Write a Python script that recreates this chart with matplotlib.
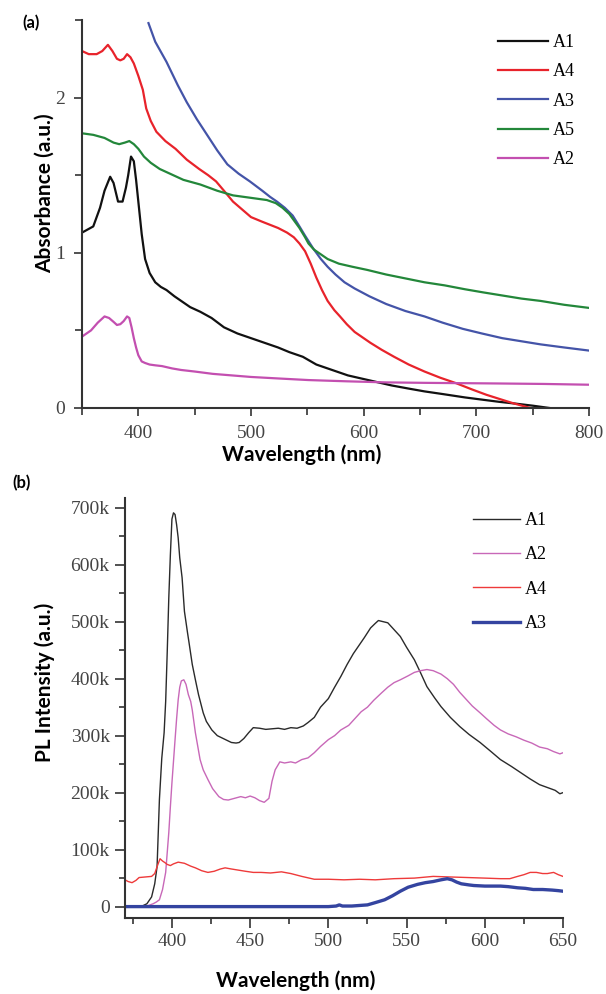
import matplotlib
matplotlib.use("Agg")
import matplotlib.pyplot as plt
from matplotlib.ticker import MultipleLocator, FixedLocator

# ---------------- data: (a) absorbance ----------------
abs_a1_x = [350, 355, 360, 366, 370, 375, 378, 382, 386, 389, 391, 393.5, 396, 398, 400, 403, 406, 410, 415, 420,
            425, 432, 438, 446, 455, 465, 476, 488, 500, 512, 524, 534, 546, 558, 572, 586, 598, 610, 625, 640,
            654, 670, 690, 706, 720, 735, 750, 758, 765]
abs_a1_y = [1.13, 1.15, 1.17, 1.29, 1.40, 1.49, 1.45, 1.33, 1.33, 1.42, 1.50, 1.62, 1.59, 1.47, 1.33, 1.12, 0.96,
            0.87, 0.81, 0.78, 0.76, 0.72, 0.69, 0.65, 0.62, 0.58, 0.52, 0.48, 0.45, 0.42, 0.39, 0.36, 0.33, 0.28,
            0.245, 0.21, 0.19, 0.17, 0.145, 0.125, 0.107, 0.09, 0.068, 0.053, 0.04, 0.028, 0.015, 0.007, 0.0]

abs_a4_x = [350, 356, 363, 368, 373, 377, 381, 384, 387, 390, 393, 396, 400, 404, 407, 411, 416, 424, 433, 443,
            454, 462, 469, 476, 484, 492, 500, 510, 524, 532, 538, 543, 548, 553, 558, 563, 568, 574, 579, 585,
            592, 600, 606, 616, 627, 640, 654, 668, 682, 696, 709, 722, 733, 742, 748]
abs_a4_y = [2.30, 2.28, 2.28, 2.30, 2.34, 2.30, 2.25, 2.24, 2.25, 2.28, 2.26, 2.22, 2.14, 2.05, 1.93, 1.85, 1.78,
            1.72, 1.67, 1.60, 1.54, 1.50, 1.46, 1.40, 1.33, 1.28, 1.23, 1.20, 1.16, 1.13, 1.10, 1.06, 1.01, 0.93,
            0.84, 0.76, 0.69, 0.63, 0.59, 0.54, 0.49, 0.45, 0.42, 0.375, 0.33, 0.28, 0.235, 0.195, 0.16, 0.12,
            0.085, 0.055, 0.03, 0.012, 0.0]

abs_a3_x = [409, 415, 425, 435, 443, 452, 461, 470, 479, 489, 499, 510, 517, 523, 530, 537, 543, 548, 555, 562,
            568, 575, 583, 592, 605, 620, 637, 654, 670, 688, 705, 723, 740, 757, 778, 800]
abs_a3_y = [2.48, 2.36, 2.23, 2.08, 1.97, 1.86, 1.76, 1.66, 1.57, 1.51, 1.46, 1.40, 1.36, 1.33, 1.29, 1.24, 1.17,
            1.11, 1.03, 0.96, 0.91, 0.86, 0.81, 0.77, 0.72, 0.67, 0.625, 0.59, 0.55, 0.51, 0.48, 0.45, 0.43,
            0.41, 0.39, 0.37]

abs_a5_x = [350, 360, 370, 378, 383, 388, 392, 396, 400, 405, 411, 419, 428, 440, 455, 470, 484, 499, 514, 522,
            528, 534, 538, 543, 548, 551, 556, 562, 568, 578, 590, 603, 620, 637, 654, 672, 690, 706, 723, 740,
            757, 778, 800]
abs_a5_y = [1.77, 1.76, 1.74, 1.71, 1.70, 1.71, 1.72, 1.70, 1.67, 1.62, 1.58, 1.54, 1.51, 1.47, 1.44, 1.40, 1.37,
            1.355, 1.34, 1.32, 1.29, 1.25, 1.21, 1.16, 1.10, 1.06, 1.02, 0.99, 0.96, 0.93, 0.91, 0.89, 0.86,
            0.835, 0.81, 0.79, 0.765, 0.745, 0.725, 0.705, 0.69, 0.665, 0.645]

abs_a2_x = [350, 354, 358, 364, 370, 374, 378, 381, 384, 387, 390, 392, 394, 396, 398, 400, 403, 406, 410, 415,
            421, 430, 438, 450, 466, 483, 500, 525, 551, 585, 620, 655, 688, 720, 760, 800]
abs_a2_y = [0.46, 0.48, 0.50, 0.55, 0.59, 0.58, 0.555, 0.535, 0.54, 0.56, 0.59, 0.58, 0.52, 0.45, 0.39, 0.34,
            0.30, 0.29, 0.28, 0.275, 0.27, 0.255, 0.245, 0.235, 0.22, 0.21, 0.20, 0.19, 0.18, 0.172, 0.165, 0.162,
            0.16, 0.158, 0.155, 0.15]

abs_labels = ["A1", "A4", "A3", "A5", "A2"]
abs_colors = ["#111111", "#e8232b", "#4454a8", "#23873a", "#c34fb0"]

# ---------------- data: (b) photoluminescence (k counts) ----------------
pl_a1_x = [370, 375, 381, 384, 387, 389, 390.5, 392, 393.5, 395, 396, 397, 398, 399, 400, 401, 402, 403, 404, 405,
           406.5, 408, 410, 411, 413, 415, 417, 420, 422, 425.5, 429, 432, 435, 438, 441, 443, 446, 449, 452, 456,
           460, 464, 468, 472, 476, 480, 484, 487, 491, 495, 500, 504, 508, 512, 516, 519, 523, 527, 530, 532,
           535, 538, 542, 546, 550, 555, 559, 563, 568, 572, 578, 584, 590, 597, 604, 610, 617, 623, 629, 635,
           641, 645, 648, 650]
pl_a1_y = [0, 0, 1, 5, 17, 40, 70, 188, 260, 305, 360, 447, 542, 617, 680, 691, 688, 670, 647, 612, 577, 518, 480,
           462, 425, 398, 372, 340, 325, 310, 300, 296, 292, 288, 287, 288, 295, 305, 314, 313, 311, 312, 313,
           311, 314, 313, 317, 323, 332, 350, 365, 385, 404, 425, 444, 456, 472, 489, 497, 502, 500, 498, 486,
           474, 455, 433, 410, 386, 366, 351, 332, 316, 302, 288, 272, 258, 246, 235, 224, 214, 208, 204, 198, 200]

pl_a2_x = [370, 380, 385, 388, 390, 392, 394, 396, 397, 398, 399, 400, 401, 402, 403, 404, 405, 406, 407.6, 409,
           410.5, 412, 413, 415, 418, 420, 423, 426, 430, 433, 436, 440, 444, 447, 450, 453, 456, 459, 462, 464,
           466, 469, 472, 476, 479, 483, 487, 491, 495, 500, 504, 508, 513, 517, 521, 525, 529, 534, 538, 542,
           546, 551, 555, 559, 563, 567, 572, 576, 580, 584, 588, 592, 597, 601, 606, 610, 615, 620, 625, 630,
           635, 640, 644, 648, 650]
pl_a2_y = [0, 0, 2, 5, 8, 12, 30, 60, 95, 130, 175, 217, 255, 293, 330, 363, 385, 396, 398, 390, 372, 360, 345,
           305, 258, 240, 223, 207, 193, 188, 187, 190, 193, 191, 194, 191, 186, 183, 190, 220, 240, 254, 252,
           254, 252, 258, 261, 270, 281, 293, 300, 310, 318, 330, 342, 350, 362, 375, 385, 393, 398, 405, 411,
           414, 416, 414, 408, 400, 390, 376, 364, 352, 340, 330, 318, 310, 303, 298, 292, 287, 280, 277, 272,
           268, 270]

pl_a4_x = [370, 372, 374.5, 377, 379, 383, 387, 389, 390.5, 392.4, 394, 395.6, 397, 399, 401, 404, 408, 412, 415,
           419, 423, 427, 431, 434, 438, 442.5, 447, 452, 457, 463, 470, 476, 483, 491, 500, 510, 520, 530, 542,
           555, 567, 578, 589, 600, 610, 616, 621, 625, 629, 633, 637, 640, 644, 647, 650]
pl_a4_y = [47, 44, 42, 46, 51, 52, 53, 58, 70, 84, 80, 77, 74, 72, 75, 78, 76, 71, 68, 63, 60, 62, 66, 68, 66, 64,
           62, 60, 60, 59, 61, 58, 53, 48, 48, 47, 48, 47, 49, 50, 53, 52, 51, 50, 49, 49, 53, 56, 60, 60, 58, 58,
           60, 56, 53]

pl_a3_x = [370, 500, 505, 507, 509, 515, 525, 530, 536, 541, 546, 551, 557, 562, 567, 572, 576, 579, 582, 585, 590,
           593, 600, 610, 615, 621, 626, 631, 637, 643, 647, 650]
pl_a3_y = [0, 0, 1, 3, 1, 1, 3, 7, 12, 19, 27, 34, 39, 42, 44, 47, 49, 47, 43, 40, 38, 37, 36, 36, 35, 33, 32, 30,
           30, 29, 28, 27]

pl_labels = ["A1", "A2", "A4", "A3"]
pl_colors = ["#2a2a2a", "#c868b8", "#ee3a3a", "#3444a0"]
pl_widths = [1.0, 1.0, 1.0, 2.4]
pl_ticks = [0, 100, 200, 300, 400, 500, 600, 700]
pl_ticklabels = ["0", "100k", "200k", "300k", "400k", "500k", "600k", "700k"]

# ---------------- figure ----------------
W, H = 606, 994
fig = plt.figure(figsize=(W / 100, H / 100), dpi=100)

serif = ["Liberation Serif", "DejaVu Serif"]
sans_b = ["Lato", "DejaVu Sans"]
tick_col = "#444444"
spine_col = "#333333"
label_fs = 15

def style(ax):
    for s in ("top", "right"):
        ax.spines[s].set_visible(False)
    for s in ("left", "bottom"):
        ax.spines[s].set_color(spine_col)
        ax.spines[s].set_linewidth(1.5)
    ax.tick_params(which="both", direction="out", color=spine_col, width=1.2,
                   labelcolor=tick_col, labelsize=14)
    for lab in ax.get_xticklabels() + ax.get_yticklabels():
        lab.set_family(serif)

# ---- (a)
ax1 = fig.add_axes([82 / W, 1 - 408 / H, (589 - 82) / W, (408 - 20) / H])
abs_series = [(abs_a1_x, abs_a1_y), (abs_a4_x, abs_a4_y), (abs_a3_x, abs_a3_y),
              (abs_a5_x, abs_a5_y), (abs_a2_x, abs_a2_y)]
for (x, y), lab, c in zip(abs_series, abs_labels, abs_colors):
    ax1.plot(x, y, color=c, lw=1.6, label=lab)
ax1.set_xlim(350, 800)
ax1.set_ylim(0, 2.5)
ax1.xaxis.set_major_locator(FixedLocator([400, 500, 600, 700, 800]))
ax1.xaxis.set_minor_locator(FixedLocator([350, 450, 550, 650, 750]))
ax1.yaxis.set_major_locator(FixedLocator([0, 1, 2]))
ax1.yaxis.set_minor_locator(FixedLocator([0.5, 1.5, 2.5]))
style(ax1)
ax1.tick_params(which="major", length=6, pad=6)
ax1.tick_params(which="minor", length=5)
ax1.set_xlabel("Wavelength (nm)", family=sans_b, fontweight="bold", fontsize=label_fs, va="center")
ax1.set_ylabel("Absorbance (a.u.)", family=sans_b, fontweight="bold", fontsize=label_fs, va="center")
ax1.xaxis.set_label_coords((302 - 82) / 507, (408 - 455) / 388)
ax1.yaxis.set_label_coords((45 - 82) / 507, 0.554)
leg1 = ax1.legend(loc="upper left", bbox_to_anchor=(498 / W, 1 - 34 / H), bbox_transform=fig.transFigure,
                  frameon=False, prop={"family": serif, "size": 13}, handlelength=2.78,
                  handletextpad=0.28, labelspacing=0.68, borderpad=0, borderaxespad=0)
fig.text(22 / W, 1 - 23 / H, "(a)", family=sans_b, fontweight="bold", fontsize=12, va="center", ha="left")

# ---- (b)
ax2 = fig.add_axes([125 / W, 1 - 918 / H, (563 - 125) / W, (918 - 498) / H])
pl_series = [(pl_a1_x, pl_a1_y), (pl_a2_x, pl_a2_y), (pl_a4_x, pl_a4_y), (pl_a3_x, pl_a3_y)]
for (x, y), lab, c, w in zip(pl_series, pl_labels, pl_colors, pl_widths):
    ax2.plot(x, y, color=c, lw=w, label=lab)
ax2.set_xlim(370, 650)
ax2.set_ylim(-20, 717)
ax2.xaxis.set_major_locator(MultipleLocator(50))
ax2.xaxis.set_minor_locator(MultipleLocator(25))
ax2.yaxis.set_major_locator(FixedLocator(pl_ticks))
ax2.yaxis.set_minor_locator(MultipleLocator(50))
ax2.set_yticklabels(pl_ticklabels)
style(ax2)
ax2.tick_params(which="major", length=7, pad=4)
ax2.tick_params(which="minor", length=4)
ax2.set_xlabel("Wavelength (nm)", family=sans_b, fontweight="bold", fontsize=label_fs, va="center")
ax2.set_ylabel("PL Intensity (a.u.)", family=sans_b, fontweight="bold", fontsize=label_fs, va="center")
ax2.xaxis.set_label_coords((296 - 125) / 438, (918 - 981) / 420)
ax2.yaxis.set_label_coords((45 - 125) / 438, 0.56)
leg2 = ax2.legend(loc="upper left", bbox_to_anchor=(473 / W, 1 - 512 / H), bbox_transform=fig.transFigure,
                  frameon=False, prop={"family": serif, "size": 13}, handlelength=2.6,
                  handletextpad=0.28, labelspacing=0.96, borderpad=0, borderaxespad=0)
fig.text(12 / W, 1 - 483 / H, "(b)", family=sans_b, fontweight="bold", fontsize=12, va="center", ha="left")

fig.savefig("out.png", dpi=100)
